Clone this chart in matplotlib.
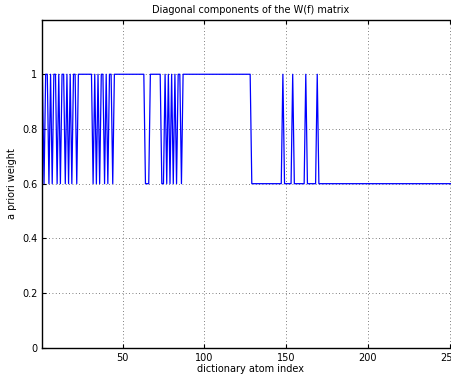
import numpy as np
import matplotlib
matplotlib.use("Agg")
import matplotlib.pyplot as plt

# dictionary atoms with the high a priori weight (1.0); all others get 0.6
high_runs = [
    (1, 1), (3, 4), (6, 6), (8, 9), (11, 11), (13, 14), (16, 16),
    (18, 18), (20, 21), (23, 31), (33, 33), (35, 35), (37, 38),
    (40, 40), (42, 43), (45, 63),
    (67, 73), (76, 76), (78, 78), (80, 80), (82, 82), (84, 85),
    (87, 128), (148, 148), (154, 154), (162, 162), (169, 169),
]
n_atoms = 256
low_weight = 0.6
high_weight = 1.0

atoms = np.arange(1, n_atoms + 1)
weights = np.full(n_atoms, low_weight)
for a, b in high_runs:
    weights[a - 1:b] = high_weight

fig = plt.figure(figsize=(4.51, 3.76), dpi=100)
ax = fig.add_axes([0.094, 0.075, 0.925, 0.873])

ax.plot(atoms, weights, color="blue", linewidth=0.9)

ax.set_xlim(1, 256)
ax.set_ylim(0, 1.2)
ax.set_xticks([50, 100, 150, 200, 250])
ax.set_yticks([0, 0.2, 0.4, 0.6, 0.8, 1])
ax.set_yticklabels(["0", "0.2", "0.4", "0.6", "0.8", "1"])
ax.grid(True, linestyle=(0, (1, 3)), color="#555555", linewidth=0.6)
ax.tick_params(direction="in", length=3, labelsize=7, top=True, right=True)
for s in ax.spines.values():
    s.set_linewidth(1.0)

ax.set_title("Diagonal components of the W(f) matrix", fontsize=7, pad=5)
ax.set_xlabel("dictionary atom index", fontsize=7, labelpad=1)
ax.set_ylabel("a priori weight", fontsize=7, labelpad=4)

fig.savefig("out.png", dpi=100)
